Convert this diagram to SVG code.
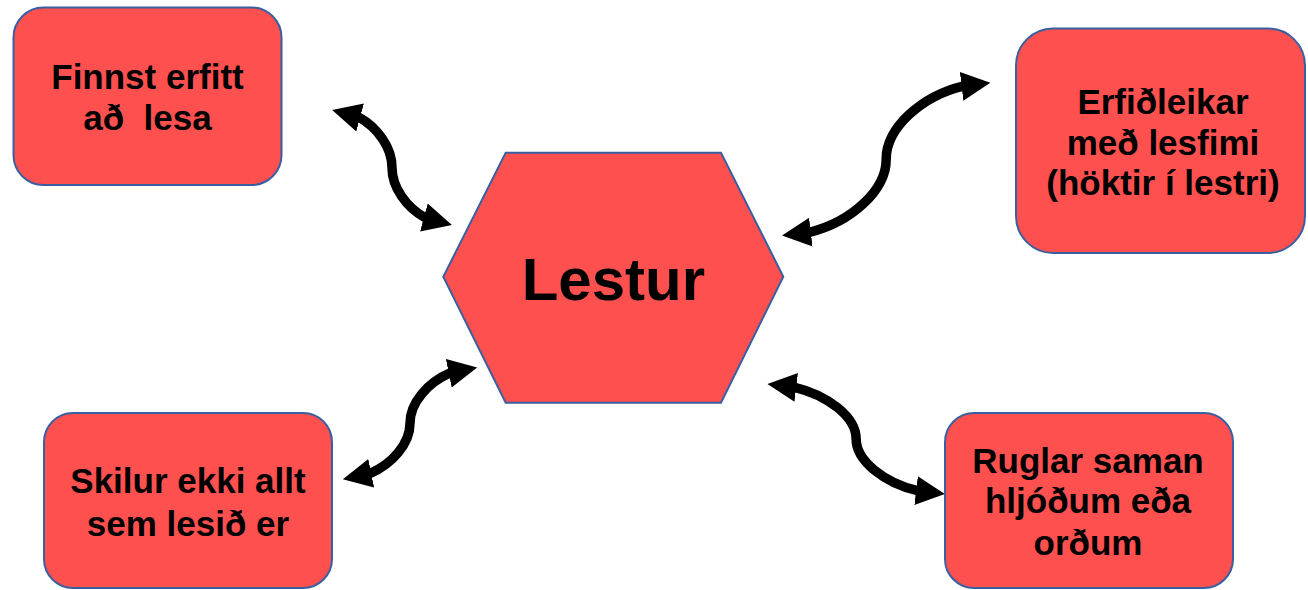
<svg xmlns="http://www.w3.org/2000/svg" width="1308" height="590" viewBox="0 0 1308 590">
  <style>
    .box { fill: #FF5050; stroke: #3A5FA0; stroke-width: 2; }
    .lbl { font-family: "Liberation Sans", Arial, sans-serif; font-weight: bold; font-size: 35px; fill: #000; text-anchor: middle; }
    .big { font-family: "Liberation Sans", Arial, sans-serif; font-weight: bold; font-size: 60px; fill: #000; text-anchor: middle; }
    .arr { fill: none; stroke: #000; stroke-width: 9.5; stroke-linejoin: round; marker-start: url(#head); marker-end: url(#head); }
  </style>
  <defs>
    <marker id="head" markerUnits="userSpaceOnUse" markerWidth="30" markerHeight="30" refX="2" refY="14.5" orient="auto-start-reverse" viewBox="0 0 30 30">
      <path d="M0,0 L29,14.5 L0,29 Z" fill="#000"/>
    </marker>
  </defs>
  <rect width="1308" height="590" fill="#fff"/>

  <g id="connectors">
    <path class="arr" d="M358.19,116.99 L358.67,117.12 C377.3,127.25 392,147.38 392,167.5 C392,187.63 406.7,207.75 425.33,217.88 L425.81,218.01"/>
    <path class="arr" d="M963.55,86.01 L963.05,86.07 C921.76,96.09 886.2,127.64 886.2,159.2 C886.2,190.76 850.64,222.31 809.35,232.33 L808.85,232.39"/>
    <path class="arr" d="M450.71,372.87 L450.22,372.97 C427.93,382.42 410,402.86 410,423.3 C410,443.74 392.07,464.18 369.78,473.63 L369.29,473.73"/>
    <path class="arr" d="M794.24,387.23 L794.74,387.29 C828.07,395.28 856.15,417.14 856.15,439 C856.15,460.86 884.23,482.72 917.56,490.71 L918.06,490.77"/>
  </g>

  <g id="center">
    <polygon class="box" points="505.7,152.7 721,152.7 783.3,276.7 721,402.7 505.7,402.7 443.3,276.7"/>
    <text class="big" x="613.4" y="300">Lestur</text>
  </g>

  <g id="node-finnst">
    <rect class="box" x="13.5" y="7.5" width="268" height="177.5" rx="30" ry="30"/>
    <text class="lbl" x="147.5" y="89">Finnst erfitt</text>
    <text class="lbl" x="147.5" y="130" xml:space="preserve">að  lesa</text>
  </g>

  <g id="node-erfidleikar">
    <rect class="box" x="1016" y="28.5" width="289" height="224.5" rx="37" ry="37"/>
    <text class="lbl" x="1163" y="114">Erfiðleikar</text>
    <text class="lbl" x="1163" y="155">með lesfimi</text>
    <text class="lbl" x="1163" y="195">(höktir í lestri)</text>
  </g>

  <g id="node-skilur">
    <rect class="box" x="44" y="413" width="288" height="175" rx="29" ry="29"/>
    <text class="lbl" x="188" y="493">Skilur ekki allt</text>
    <text class="lbl" x="188" y="536">sem lesið er</text>
  </g>

  <g id="node-ruglar">
    <rect class="box" x="945" y="413" width="288" height="175" rx="29" ry="29"/>
    <text class="lbl" x="1088" y="473">Ruglar saman</text>
    <text class="lbl" x="1088" y="513">hljóðum eða</text>
    <text class="lbl" x="1088" y="555">orðum</text>
  </g>
</svg>
